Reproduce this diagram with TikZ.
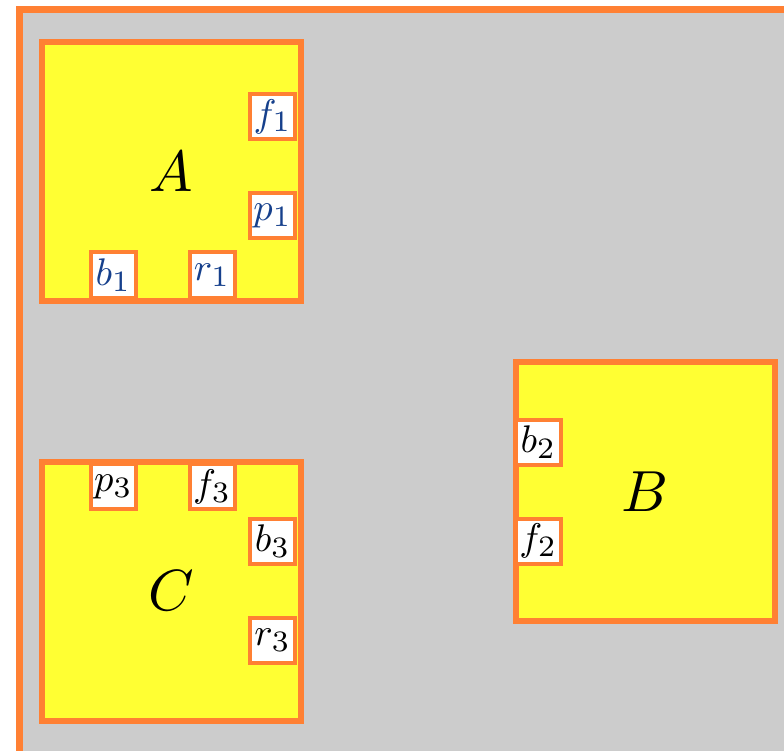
\documentclass[tikz,border=0pt]{standalone}
\usepackage{graphicx}
\definecolor{framegray}{RGB}{204,204,204}
\definecolor{edgeorange}{RGB}{255,128,51}
\definecolor{boxyellow}{RGB}{255,255,51}
\definecolor{porttext}{RGB}{22,64,140}
\newcommand{\blklabel}[1]{\scalebox{5.8}{$#1$}}
\newcommand{\portlabel}[2]{\scalebox{3.85}{$#1_{\scalebox{1.1}{$\scriptstyle #2$}}$}}
\begin{document}
\begin{tikzpicture}[x=1pt,y=-1pt,
  outerframe/.style={fill=framegray,draw=edgeorange,line width=6.5pt},
  blk/.style={draw=edgeorange,fill=boxyellow,line width=6pt,minimum size=259pt,inner sep=0pt},
  portbox/.style={draw=edgeorange,fill=white,line width=4pt,minimum size=45pt,inner sep=0pt},
  bluelabel/.style={text=porttext}]
\clip (0,0) rectangle (784,751);
\draw[outerframe] (19.5,9.5) rectangle (830,800);
\node[blk] (A) at (171.5,171.5) {\blklabel{A}};
\node[blk] (B) at (645,491.5) {\blklabel{B}};
\node[blk] (C) at (171.5,591) {\blklabel{C}};
% ports of A
\node[portbox,bluelabel] (f1) at (272.5,116.5) {\portlabel{f}{1}};
\node[portbox,bluelabel] (p1) at (272.5,216) {\portlabel{p}{1}};
\node[portbox,bluelabel] (b1) at (113.3,275) {\portlabel{b}{1}};
\node[portbox,bluelabel] (r1) at (212,275) {\portlabel{r}{1}};
% ports of B
\node[portbox] (b2) at (538.2,442.5) {\portlabel{b}{2}};
\node[portbox] (f2) at (538.2,541.3) {\portlabel{f}{2}};
% ports of C
\node[portbox] (p3) at (113.3,486.8) {\portlabel{p}{3}};
\node[portbox] (f3) at (212,486.8) {\portlabel{f}{3}};
\node[portbox] (b3) at (272.5,541.3) {\portlabel{b}{3}};
\node[portbox] (r3) at (272.5,640) {\portlabel{r}{3}};
\end{tikzpicture}
\end{document}
